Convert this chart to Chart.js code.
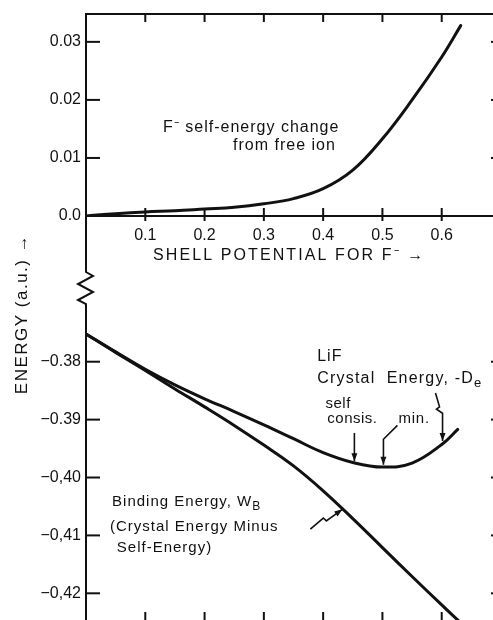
<!DOCTYPE html>
<html>
<head>
<meta charset="utf-8">
<script src="https://cdn.jsdelivr.net/npm/chart.js@4.4.0/dist/chart.umd.min.js"></script>
<style>
  html, body { margin: 0; padding: 0; background: #fff; overflow: hidden; }
  #wrap { position: relative; width: 501px; height: 620px; }
  .panel { position: absolute; left: 0; top: 0; width: 501px; height: 620px; }
</style>
</head>
<body>
<div id="wrap">
  <div class="panel"><canvas id="lower"></canvas></div>
  <div class="panel"><canvas id="upper"></canvas></div>
</div>
<script>
// Upper panel: F- self-energy change vs shell potential
const shellPotential = [0, 0.05, 0.1, 0.15, 0.2, 0.25, 0.3, 0.35, 0.4, 0.45, 0.5, 0.55, 0.6, 0.632];
const selfEnergyChange = [0, 0.0004, 0.0007, 0.0009, 0.0012, 0.0015, 0.0021, 0.0030, 0.0047, 0.0079, 0.0133, 0.0200, 0.0274, 0.0328];

// Lower panel: LiF crystal energy and binding energy
const crystalPotential = [0, 0.05, 0.1, 0.15, 0.2, 0.25, 0.3, 0.35, 0.4, 0.45, 0.5, 0.55, 0.6, 0.627];
const crystalEnergy = [-0.3752, -0.3783, -0.3813, -0.3840, -0.3864, -0.3886, -0.3909, -0.3933, -0.3957, -0.3974, -0.3982, -0.3975, -0.3943, -0.3917];
const bindingPotential = [0, 0.05, 0.1, 0.15, 0.2, 0.25, 0.3, 0.35, 0.4, 0.45, 0.5, 0.55, 0.6, 0.63];
const bindingEnergy = [-0.3752, -0.3784, -0.3815, -0.3847, -0.3878, -0.3910, -0.3944, -0.3980, -0.4023, -0.4071, -0.4121, -0.4171, -0.4220, -0.4249];

// Ticks
const xTicks = [0.1, 0.2, 0.3, 0.4, 0.5, 0.6];
const xTickLabels = ['0.1', '0.2', '0.3', '0.4', '0.5', '0.6'];
const upperTicks = [0, 0.01, 0.02, 0.03];
const upperTickLabels = ['0.0', '0.01', '0.02', '0.03'];
const lowerTicks = [-0.38, -0.39, -0.40, -0.41, -0.42];
const lowerTickLabels = ['\u22120.38', '\u22120.39', '\u22120,40', '\u22120,41', '\u22120,42'];

const ink = '#111';
const FONT = '"Liberation Sans", Arial, sans-serif';

Chart.defaults.font.family = FONT;
Chart.defaults.color = ink;

const pairs = (xs, ys) => xs.map((x, i) => ({ x, y: ys[i] }));

function seg(ctx, x1, y1, x2, y2) {
  ctx.beginPath();
  ctx.moveTo(x1, y1);
  ctx.lineTo(x2, y2);
  ctx.stroke();
}

function label(ctx, text, x, y, size, spacing, sub) {
  ctx.font = size + 'px ' + FONT;
  ctx.letterSpacing = (spacing || 0) + 'px';
  ctx.textAlign = 'left';
  ctx.textBaseline = 'middle';
  ctx.fillText(text, x, y);
  if (sub) {
    const w = ctx.measureText(text).width;
    ctx.font = Math.round(size * 0.8) + 'px ' + FONT;
    ctx.fillText(sub, x + w, y + size * 0.3);
  }
  ctx.letterSpacing = '0px';
}

// polyline ending in a small filled arrow head
function pointer(ctx, pts) {
  ctx.beginPath();
  pts.forEach(([x, y], i) => (i ? ctx.lineTo(x, y) : ctx.moveTo(x, y)));
  ctx.stroke();
  const [x1, y1] = pts[pts.length - 2];
  const [x2, y2] = pts[pts.length - 1];
  const a = Math.atan2(y2 - y1, x2 - x1);
  ctx.beginPath();
  ctx.moveTo(x2, y2);
  ctx.lineTo(x2 - 8 * Math.cos(a) + 3 * Math.sin(a), y2 - 8 * Math.sin(a) - 3 * Math.cos(a));
  ctx.lineTo(x2 - 8 * Math.cos(a) - 3 * Math.sin(a), y2 - 8 * Math.sin(a) + 3 * Math.cos(a));
  ctx.closePath();
  ctx.fill();
}

const lineStyle = {
  borderColor: ink,
  borderWidth: 3,
  pointRadius: 0,
  fill: false,
  tension: 0.4,
  borderCapStyle: 'round',
};

const yAxis = (min, max, ticks, labels) => ({
  type: 'linear',
  position: 'left',
  min, max,
  grid: { display: false, drawTicks: false },
  border: { display: true, color: ink, width: 2 },
  ticks: {
    padding: 5,
    font: { size: 16 },
    color: ink,
    callback: (v, i) => labels[i],
  },
  afterBuildTicks: (s) => { s.ticks = ticks.map(value => ({ value })); },
  afterFit: (s) => { s.width = 86; s.paddingTop = 0; s.paddingBottom = 0; },
});

// Upper panel frame, ticks, axis break and labels
const upperFrame = {
  id: 'upperFrame',
  afterDraw(chart) {
    const { ctx, chartArea: { left, right, top, bottom } } = chart;
    const xs = chart.scales.x, ys = chart.scales.y;
    ctx.save();
    ctx.strokeStyle = ink;
    ctx.fillStyle = ink;
    ctx.lineWidth = 2;
    seg(ctx, left - 1, top, right, top);
    xTicks.forEach(v => {
      const px = xs.getPixelForValue(v);
      seg(ctx, px, top, px, top + 8);
      seg(ctx, px, bottom - 8, px, bottom + 5);
    });
    upperTicks.forEach(v => {
      const py = ys.getPixelForValue(v);
      seg(ctx, left, py, left + 14, py);
      seg(ctx, right - 10, py, right, py);
    });
    // axis continues down through the break
    ctx.beginPath();
    ctx.moveTo(left, bottom);
    ctx.lineTo(left, bottom + 56);
    ctx.lineTo(left + 7, bottom + 60);
    ctx.lineTo(left - 8, bottom + 68);
    ctx.lineTo(left + 7, bottom + 76);
    ctx.lineTo(left - 8, bottom + 84);
    ctx.lineTo(left, bottom + 88);
    ctx.lineTo(left, bottom + 92);
    ctx.stroke();

    label(ctx, 'F\u207B self-energy change', xs.getPixelForValue(0.130), ys.getPixelForValue(0.0152), 16, 1);
    label(ctx, 'from free ion', xs.getPixelForValue(0.248), ys.getPixelForValue(0.0122), 16, 1);
    label(ctx, 'SHELL POTENTIAL FOR F\u207B \u2192', xs.getPixelForValue(0.113), bottom + 40, 16, 2.1);
    ctx.restore();
  },
};

// Lower panel ticks, annotations and the shared energy title
const lowerFrame = {
  id: 'lowerFrame',
  afterDraw(chart) {
    const { ctx, chartArea: { left, right, top, bottom } } = chart;
    const xs = chart.scales.x, ys = chart.scales.y;
    const P = (x, y) => [xs.getPixelForValue(x), ys.getPixelForValue(y)];
    ctx.save();
    ctx.strokeStyle = ink;
    ctx.fillStyle = ink;
    ctx.lineWidth = 2;
    lowerTicks.forEach(v => {
      const py = ys.getPixelForValue(v);
      seg(ctx, left, py, left + 14, py);
      seg(ctx, right - 10, py, right, py);
    });
    xTicks.forEach(v => {
      const px = xs.getPixelForValue(v);
      seg(ctx, px, bottom - 8, px, bottom);
    });

    label(ctx, 'LiF', ...P(0.390, -0.3792), 16, 1);
    label(ctx, 'Crystal  Energy, -D', ...P(0.390, -0.3830), 16, 1.2, 'e');
    label(ctx, 'self', ...P(0.404, -0.3873), 15, 0.5);
    label(ctx, 'consis.', ...P(0.407, -0.3899), 15, 0.5);
    label(ctx, 'min.', ...P(0.527, -0.3899), 15, 0.8);
    label(ctx, 'Binding Energy, W', ...P(0.044, -0.4042), 15, 1, 'B');
    label(ctx, '(Crystal Energy Minus', ...P(0.0405, -0.4086), 15, 1);
    label(ctx, 'Self-Energy)', ...P(0.052, -0.4122), 15, 1);

    ctx.lineWidth = 1.6;
    pointer(ctx, [P(0.4527, -0.3923), P(0.4527, -0.3972)]);
    pointer(ctx, [P(0.5253, -0.3910), P(0.5017, -0.3934), P(0.5017, -0.3978)]);
    pointer(ctx, [P(0.5895, -0.3854), P(0.5963, -0.3878), P(0.5912, -0.3882), P(0.6014, -0.3889), P(0.6014, -0.3937)]);
    pointer(ctx, [P(0.3784, -0.4089), P(0.4003, -0.4070), P(0.4054, -0.4075), P(0.4324, -0.4055)]);

    ctx.translate(left - 64, top + 7);
    ctx.rotate(-Math.PI / 2);
    ctx.font = '17px ' + FONT;
    ctx.letterSpacing = '1.5px';
    ctx.textAlign = 'center';
    ctx.textBaseline = 'middle';
    ctx.fillText('ENERGY (a.u.) \u2192', 0, 0);
    ctx.restore();
  },
};

new Chart(document.getElementById('upper'), {
  type: 'line',
  data: {
    datasets: [{ label: 'F- self-energy change', data: pairs(shellPotential, selfEnergyChange), ...lineStyle }],
  },
  options: {
    responsive: true,
    maintainAspectRatio: false,
    animation: false,
    events: [],
    layout: { padding: { top: 14, bottom: 364, left: 0, right: 0 } },
    plugins: { legend: { display: false }, tooltip: { enabled: false } },
    scales: {
      x: {
        type: 'linear',
        min: 0, max: 0.7,
        grid: { display: false, drawTicks: false },
        border: { display: true, color: ink, width: 2 },
        ticks: {
          padding: 10,
          font: { size: 16 },
          color: ink,
          callback: (v, i) => xTickLabels[i],
        },
        afterBuildTicks: (s) => { s.ticks = xTicks.map(value => ({ value })); },
        afterFit: (s) => { s.height = 40; },
      },
      y: yAxis(0, 0.0348, upperTicks, upperTickLabels),
    },
  },
  plugins: [upperFrame],
});

new Chart(document.getElementById('lower'), {
  type: 'line',
  data: {
    datasets: [
      { label: 'LiF crystal energy', data: pairs(crystalPotential, crystalEnergy), ...lineStyle },
      { label: 'Binding energy', data: pairs(bindingPotential, bindingEnergy), ...lineStyle },
    ],
  },
  options: {
    responsive: true,
    maintainAspectRatio: false,
    animation: false,
    events: [],
    layout: { padding: { top: 307, bottom: 0, left: 0, right: 0 } },
    plugins: { legend: { display: false }, tooltip: { enabled: false } },
    scales: {
      x: { type: 'linear', min: 0, max: 0.7, display: false },
      y: yAxis(-0.42461, -0.37055, lowerTicks, lowerTickLabels),
    },
  },
  plugins: [lowerFrame],
});
</script>
</body>
</html>
